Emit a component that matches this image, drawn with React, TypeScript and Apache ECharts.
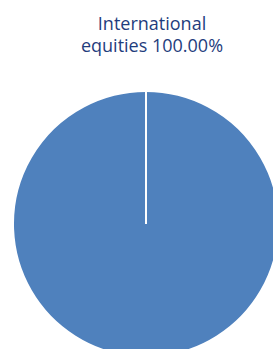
import React, { useEffect, useRef } from "react";
import * as echarts from "echarts";

const categories = ["International equities"];
const values = [100];
const labelText = ["International", "equities 100.00%"];

export default function App() {
  const ref = useRef<HTMLDivElement>(null);
  useEffect(() => {
    const chart = echarts.init(ref.current!, null, { renderer: "svg" });
    const cx = 146;
    const cy = 224;
    const r = 133;
    chart.setOption({
      animation: false,
      title: {
        text: labelText.join("\n"),
        left: 147,
        top: 7,
        textAlign: "center",
        textStyle: {
          fontFamily: "Open Sans",
          fontSize: 18,
          fontWeight: "normal",
          color: "#1f3d7d",
          lineHeight: 22,
        },
      },
      graphic: [
        {
          type: "line",
          z: 100,
          shape: { x1: cx, y1: cy - r, x2: cx, y2: cy },
          style: { stroke: "#ffffff", lineWidth: 2 },
        },
      ],
      series: [
        {
          type: "pie",
          center: [cx, cy],
          radius: [0, r],
          startAngle: 90,
          label: { show: false },
          labelLine: { show: false },
          itemStyle: { color: "#4f81bd", borderColor: "#ffffff", borderWidth: 2 },
          data: categories.map((c, i) => ({ name: c, value: values[i] })),
        },
      ],
    });
    return () => chart.dispose();
  }, []);
  return <div ref={ref} style={{ width: 273, height: 349, position: "absolute", left: 0, top: 0 }} />;
}
